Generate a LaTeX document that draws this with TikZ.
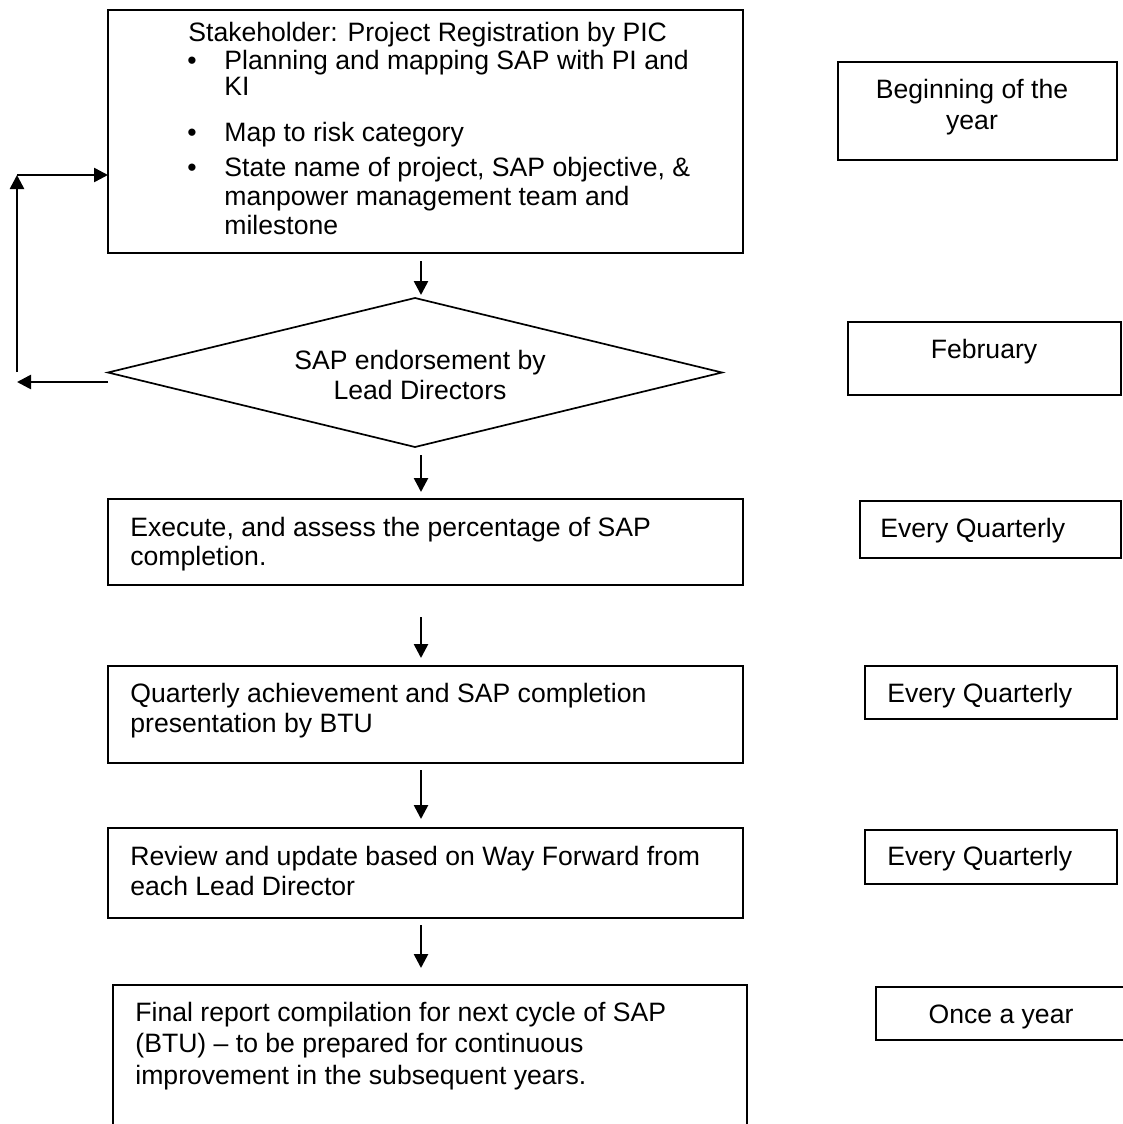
\documentclass[tikz,border=0pt]{standalone}
\usepackage{fontspec}
\setmainfont{Liberation Sans}
\usetikzlibrary{shapes.geometric,arrows.meta,calc}
\begin{document}
\begin{tikzpicture}[x=0.5pt,y=-0.5pt,
  font=\fontsize{13.3pt}{16pt}\selectfont,
  box/.style={draw, line width=0.85pt, inner sep=0pt, outer sep=0pt, anchor=north west},
  dia/.style={draw, diamond, line width=0.85pt, inner sep=0pt, outer sep=0pt},
  txt/.style={anchor=base west, inner sep=0pt},
  ctxt/.style={anchor=base, inner sep=0pt},
  arr/.style={line width=1.3pt, -{Triangle[length=7pt,width=7pt]}}]
\useasboundingbox (0,0) rectangle (1123,1124);
% main column boxes
\node[box, minimum width=317.5pt, minimum height=121.5pt] (b1) at (108,10) {};
\node[dia, minimum width=307pt, minimum height=74.5pt] (d) at (415,372.5) {};
\node[box, minimum width=317.5pt, minimum height=43pt] (b2) at (108,499) {};
\node[box, minimum width=317.5pt, minimum height=48.5pt] (b3) at (108,666) {};
\node[box, minimum width=317.5pt, minimum height=45pt] (b4) at (108,828) {};
\node[box, minimum width=317pt, minimum height=80pt] (b5) at (113,985) {};
% right column boxes
\node[box, minimum width=139.5pt, minimum height=49pt] (r1) at (838,62) {};
\node[box, minimum width=136.5pt, minimum height=36.5pt] (r2) at (848,322) {};
\node[box, minimum width=130.5pt, minimum height=28.5pt] (r3) at (860,501) {};
\node[box, minimum width=126pt, minimum height=26.5pt] (r4) at (865,666) {};
\node[box, minimum width=126pt, minimum height=27pt] (r5) at (865,830) {};
\node[box, minimum width=135pt, minimum height=26.5pt] (r6) at (876,987) {};
% texts box 1
\node[txt] (t1) at (188,41) {Stakeholder: Project Registration by PIC};
\node[txt] (u1) at (187,69) {\textbullet};
\node[txt] (t2) at (224,69) {Planning and mapping SAP with PI and};
\node[txt] (t3) at (224,95) {KI};
\node[txt] (u2) at (187,141) {\textbullet};
\node[txt] (t4) at (224,141) {Map to risk category};
\node[txt] (u3) at (187,176) {\textbullet};
\node[txt] (t5) at (224,176) {State name of project, SAP objective, \&};
\node[txt] (t6) at (224,205) {manpower management team and};
\node[txt] (t7) at (224,234) {milestone};
% diamond text
\node[ctxt] (dt1) at (420,369) {SAP endorsement by};
\node[ctxt] (dt2) at (420,399) {Lead Directors};
% other boxes text
\node[txt] (e1) at (130,536) {Execute, and assess the percentage of SAP};
\node[txt] (e2) at (130,565) {completion.};
\node[txt] (q1) at (130,702) {Quarterly achievement and SAP completion};
\node[txt] (q2) at (130,732) {presentation by BTU};
\node[txt] (w1) at (130,865) {Review and update based on Way Forward from};
\node[txt] (w2) at (130,895) {each Lead Director};
\node[txt] (f1) at (135,1021) {Final report compilation for next cycle of SAP};
\node[txt] (f2) at (135,1052) {(BTU) -- to be prepared for continuous};
\node[txt] (f3) at (135,1084) {improvement in the subsequent years.};
% right texts
\node[ctxt] (rt1) at (972,98) {Beginning of the};
\node[ctxt] (rt2) at (972,129) {year};
\node[ctxt] (rt3) at (984,358) {February};
\node[txt] (rt4) at (880,537) {Every Quarterly};
\node[txt] (rt5) at (887,702) {Every Quarterly};
\node[txt] (rt6) at (887,865) {Every Quarterly};
\node[ctxt] (rt7) at (1001,1023) {Once a year};
% arrows
\coordinate (ax) at (421,0);
\draw[arr] ($(ax |- b1.south)+(0,8)$) -- ($(ax |- d.north)+(0,-3)$);
\draw[arr] ($(ax |- d.south)+(0,8)$) -- ($(ax |- b2.north)+(0,-7)$);
\draw[arr] ($(ax |- b2.south)+(0,32)$) -- ($(ax |- b3.north)+(0,-8)$);
\draw[arr] ($(ax |- b3.south)+(0,7)$) -- ($(ax |- b4.north)+(0,-9)$);
\draw[arr] ($(ax |- b4.south)+(0,7)$) -- ($(ax |- b5.north)+(0,-17)$);
% feedback loop
\coordinate (fl) at (17,382);
\coordinate (fv1) at (17,372);
\coordinate (fv2) at (17,175);
\draw[arr] ($(d.west)+(0,9.5)$) -- (fl);
\draw[arr] (fv1) -- (fv2);
\draw[arr] (fv2) -- (b1.west |- fv2);
\end{tikzpicture}
\end{document}
